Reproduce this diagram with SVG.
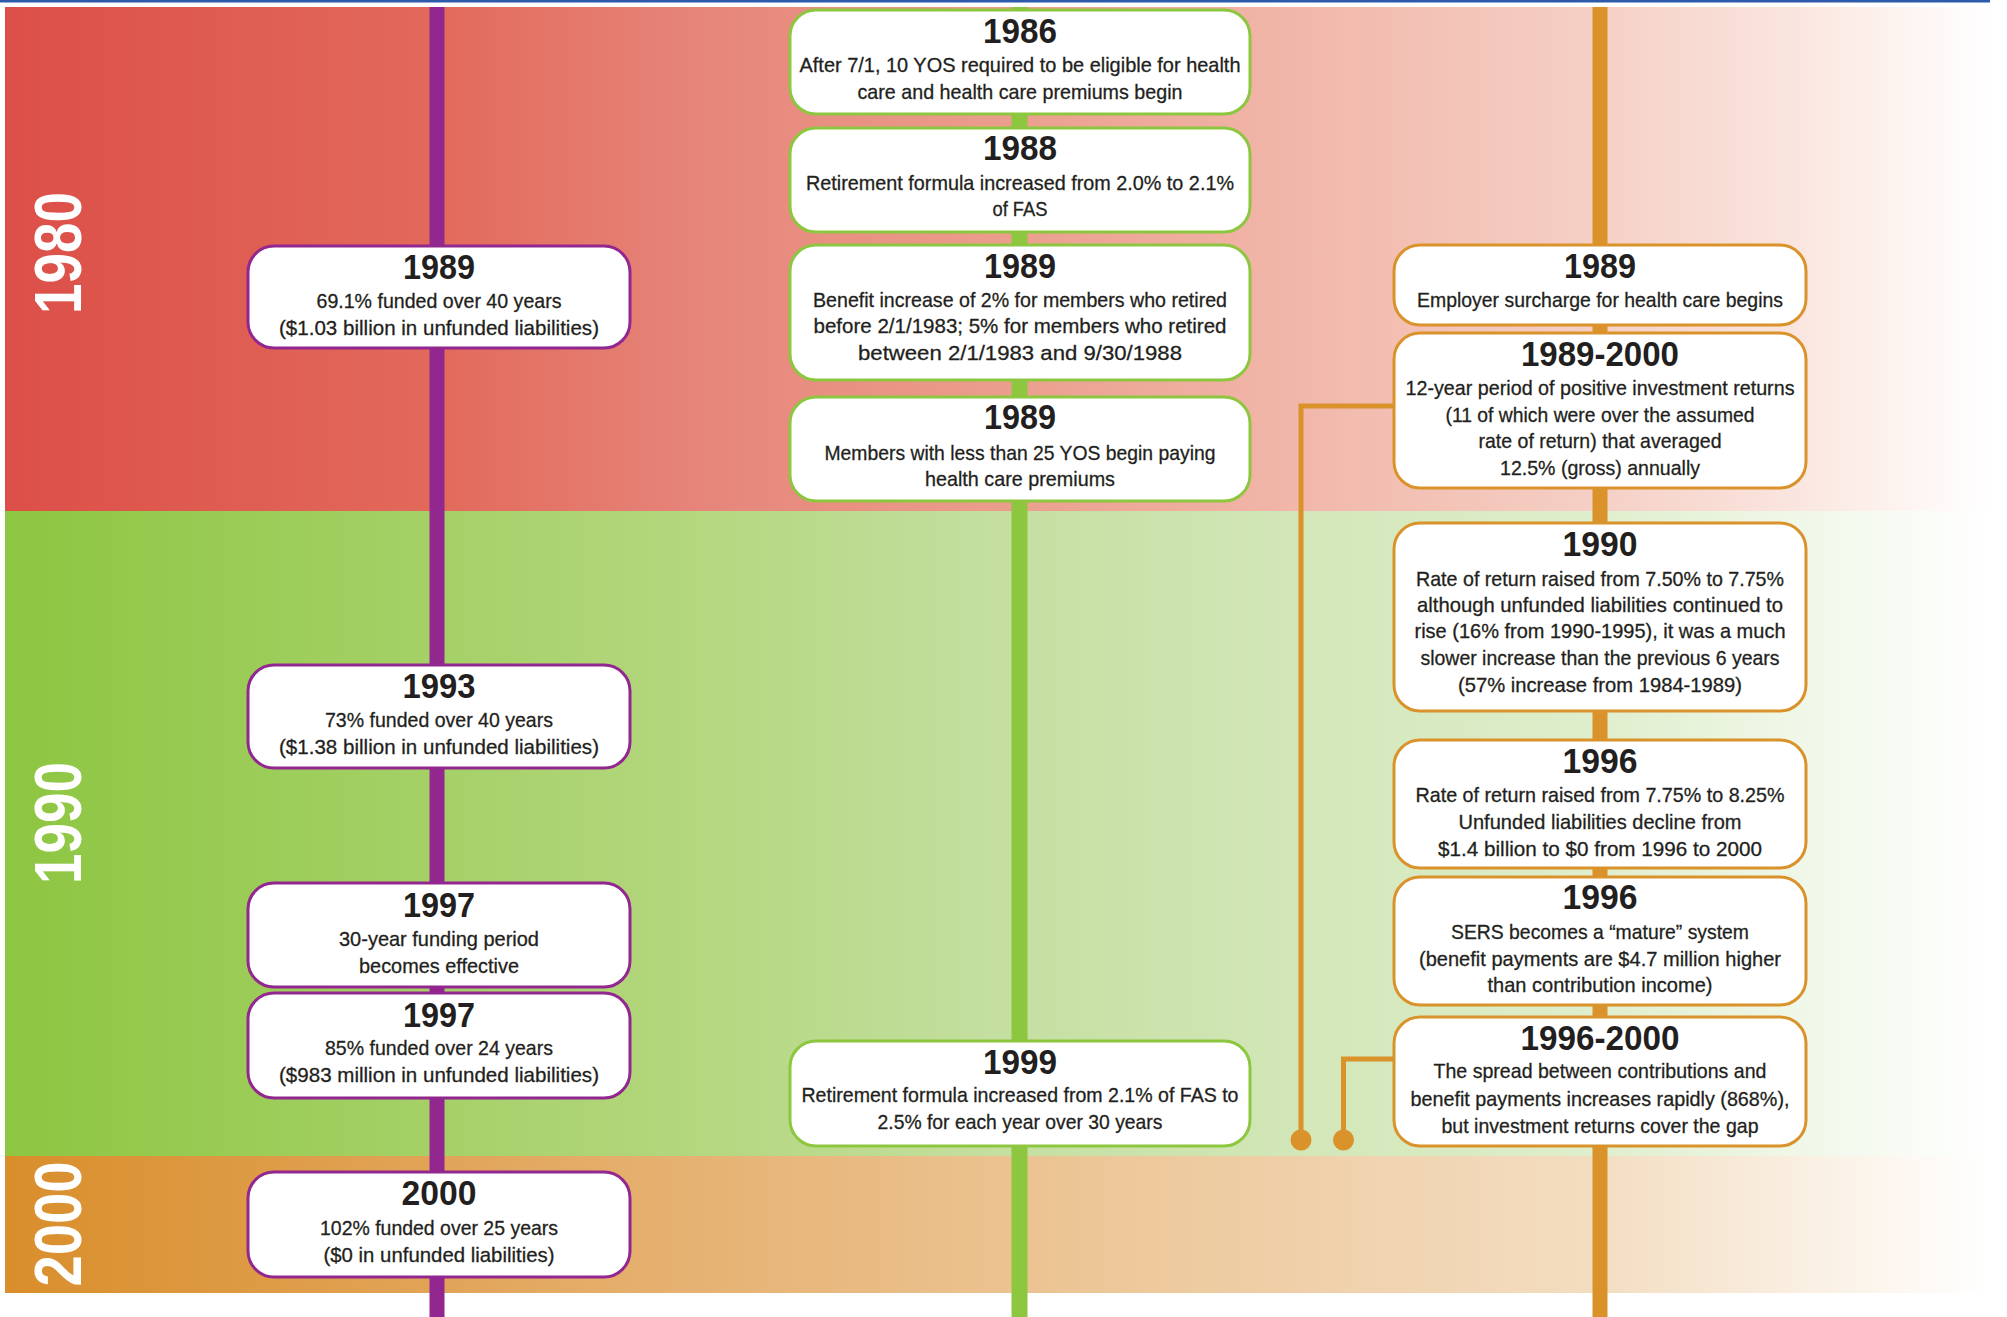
<svg xmlns="http://www.w3.org/2000/svg" width="2007" height="1317" viewBox="0 0 2007 1317">
<defs>
<linearGradient id="gRed" x1="0" y1="0" x2="1" y2="0">
<stop offset="0" stop-color="#DC4F48"/>
<stop offset="0.22" stop-color="#E26A5B"/>
<stop offset="0.35" stop-color="#E6857A"/>
<stop offset="0.5" stop-color="#EB9D8C"/>
<stop offset="0.68" stop-color="#F2BCAF"/>
<stop offset="0.8" stop-color="#F5CFC5"/>
<stop offset="0.9" stop-color="#FAE5DE"/>
<stop offset="1" stop-color="#FFFFFF"/>
</linearGradient>
<linearGradient id="gGreen" x1="0" y1="0" x2="1" y2="0">
<stop offset="0" stop-color="#8DC641"/>
<stop offset="0.35" stop-color="#B4D77F"/>
<stop offset="0.5" stop-color="#C4DFA0"/>
<stop offset="0.68" stop-color="#D5E8BC"/>
<stop offset="0.8" stop-color="#DFEECC"/>
<stop offset="0.9" stop-color="#EFF7E7"/>
<stop offset="1" stop-color="#FFFFFF"/>
</linearGradient>
<linearGradient id="gOrange" x1="0" y1="0" x2="1" y2="0">
<stop offset="0" stop-color="#D98E2B"/>
<stop offset="0.35" stop-color="#E6B273"/>
<stop offset="0.5" stop-color="#EBC28F"/>
<stop offset="0.68" stop-color="#F0D2AE"/>
<stop offset="0.8" stop-color="#F3DDC0"/>
<stop offset="0.9" stop-color="#F9EEE0"/>
<stop offset="1" stop-color="#FFFFFF"/>
</linearGradient>
</defs>
<style>
.t{font-family:"Liberation Sans Narrow","Liberation Sans",Arial,sans-serif;fill:#231F20;text-anchor:middle}
.h{font-size:35px;font-weight:bold}
.b{font-size:21px;stroke:#231F20;stroke-width:0.3}
.dec{font-family:"Liberation Sans",Arial,sans-serif;font-weight:bold;font-size:66px;fill:#FFFFFF;text-anchor:middle}
.pb{fill:#FFFFFF;stroke:#92278F;stroke-width:3}
.gb{fill:#FFFFFF;stroke:#8DC63F;stroke-width:3}
.ob{fill:#FFFFFF;stroke:#DA922B;stroke-width:3}
.link{fill:none;stroke:#DA922B;stroke-width:5}
.dot{fill:#DA922B}
</style>
<rect x="0" y="0" width="2007" height="1317" fill="#FFFFFF"/>
<g id="bands">
<rect x="0" y="0" width="1990" height="2.5" fill="#2E5AAC"/>
<rect x="5" y="7" width="1985" height="504" fill="url(#gRed)"/>
<rect x="5" y="511" width="1985" height="645" fill="url(#gGreen)"/>
<rect x="5" y="1156" width="1985" height="137" fill="url(#gOrange)"/>
</g>
<g id="connectors">
<rect x="429.5" y="7" width="15" height="1310" fill="#92278F"/>
<rect x="1011.5" y="7" width="16" height="1310" fill="#8DC63F"/>
<rect x="1592.5" y="7" width="15" height="1310" fill="#DA922B"/>
<path class="link" d="M1394 406 H1301 V1138"/>
<circle class="dot" cx="1301" cy="1140" r="10.5"/>
<path class="link" d="M1394 1059 H1343.5 V1138"/>
<circle class="dot" cx="1343.5" cy="1140" r="10.5"/>
</g>
<g id="p1989">
<rect class="pb" x="248" y="246" width="382" height="102" rx="26"/>
<text class="t h" x="439" y="279" textLength="72" lengthAdjust="spacingAndGlyphs">1989</text>
<text class="t b" x="439" y="308" textLength="245" lengthAdjust="spacingAndGlyphs">69.1% funded over 40 years</text>
<text class="t b" x="439" y="335" textLength="320" lengthAdjust="spacingAndGlyphs">($1.03 billion in unfunded liabilities)</text>
</g>
<g id="p1993">
<rect class="pb" x="248" y="665" width="382" height="103" rx="26"/>
<text class="t h" x="439" y="698" textLength="73" lengthAdjust="spacingAndGlyphs">1993</text>
<text class="t b" x="439" y="727" textLength="228" lengthAdjust="spacingAndGlyphs">73% funded over 40 years</text>
<text class="t b" x="439" y="754" textLength="320" lengthAdjust="spacingAndGlyphs">($1.38 billion in unfunded liabilities)</text>
</g>
<g id="p1997a">
<rect class="pb" x="248" y="883" width="382" height="104" rx="26"/>
<text class="t h" x="439" y="917" textLength="72" lengthAdjust="spacingAndGlyphs">1997</text>
<text class="t b" x="439" y="946" textLength="200" lengthAdjust="spacingAndGlyphs">30-year funding period</text>
<text class="t b" x="439" y="973" textLength="160" lengthAdjust="spacingAndGlyphs">becomes effective</text>
</g>
<g id="p1997b">
<rect class="pb" x="248" y="993" width="382" height="105" rx="26"/>
<text class="t h" x="439" y="1027" textLength="72" lengthAdjust="spacingAndGlyphs">1997</text>
<text class="t b" x="439" y="1055" textLength="228" lengthAdjust="spacingAndGlyphs">85% funded over 24 years</text>
<text class="t b" x="439" y="1082" textLength="320" lengthAdjust="spacingAndGlyphs">($983 million in unfunded liabilities)</text>
</g>
<g id="p2000">
<rect class="pb" x="248" y="1172" width="382" height="105" rx="26"/>
<text class="t h" x="439" y="1205" textLength="75" lengthAdjust="spacingAndGlyphs">2000</text>
<text class="t b" x="439" y="1235" textLength="238" lengthAdjust="spacingAndGlyphs">102% funded over 25 years</text>
<text class="t b" x="439" y="1262" textLength="231" lengthAdjust="spacingAndGlyphs">($0 in unfunded liabilities)</text>
</g>
<g id="g1986">
<rect class="gb" x="790" y="10" width="460" height="104" rx="26"/>
<text class="t h" x="1020" y="43" textLength="74" lengthAdjust="spacingAndGlyphs">1986</text>
<text class="t b" x="1020" y="72" textLength="441" lengthAdjust="spacingAndGlyphs">After 7/1, 10 YOS required to be eligible for health</text>
<text class="t b" x="1020" y="99" textLength="325" lengthAdjust="spacingAndGlyphs">care and health care premiums begin</text>
</g>
<g id="g1988">
<rect class="gb" x="790" y="128" width="460" height="104" rx="26"/>
<text class="t h" x="1020" y="160" textLength="74" lengthAdjust="spacingAndGlyphs">1988</text>
<text class="t b" x="1020" y="190" textLength="428" lengthAdjust="spacingAndGlyphs">Retirement formula increased from 2.0% to 2.1%</text>
<text class="t b" x="1020" y="216" textLength="55" lengthAdjust="spacingAndGlyphs">of FAS</text>
</g>
<g id="g1989a">
<rect class="gb" x="790" y="245" width="460" height="135" rx="26"/>
<text class="t h" x="1020" y="278" textLength="72" lengthAdjust="spacingAndGlyphs">1989</text>
<text class="t b" x="1020" y="307" textLength="414" lengthAdjust="spacingAndGlyphs">Benefit increase of 2% for members who retired</text>
<text class="t b" x="1020" y="333" textLength="413" lengthAdjust="spacingAndGlyphs">before 2/1/1983; 5% for members who retired</text>
<text class="t b" x="1020" y="360" textLength="324" lengthAdjust="spacingAndGlyphs">between 2/1/1983 and 9/30/1988</text>
</g>
<g id="g1989b">
<rect class="gb" x="790" y="397" width="460" height="104" rx="26"/>
<text class="t h" x="1020" y="429" textLength="72" lengthAdjust="spacingAndGlyphs">1989</text>
<text class="t b" x="1020" y="460" textLength="391" lengthAdjust="spacingAndGlyphs">Members with less than 25 YOS begin paying</text>
<text class="t b" x="1020" y="486" textLength="190" lengthAdjust="spacingAndGlyphs">health care premiums</text>
</g>
<g id="g1999">
<rect class="gb" x="790" y="1041" width="460" height="105" rx="26"/>
<text class="t h" x="1020" y="1074" textLength="74" lengthAdjust="spacingAndGlyphs">1999</text>
<text class="t b" x="1020" y="1102" textLength="437" lengthAdjust="spacingAndGlyphs">Retirement formula increased from 2.1% of FAS to</text>
<text class="t b" x="1020" y="1129" textLength="285" lengthAdjust="spacingAndGlyphs">2.5% for each year over 30 years</text>
</g>
<g id="o1989">
<rect class="ob" x="1394" y="245" width="412" height="80" rx="26"/>
<text class="t h" x="1600" y="278" textLength="72" lengthAdjust="spacingAndGlyphs">1989</text>
<text class="t b" x="1600" y="307" textLength="366" lengthAdjust="spacingAndGlyphs">Employer surcharge for health care begins</text>
</g>
<g id="o1989_2000">
<rect class="ob" x="1394" y="333" width="412" height="155" rx="26"/>
<text class="t h" x="1600" y="366" textLength="158" lengthAdjust="spacingAndGlyphs">1989-2000</text>
<text class="t b" x="1600" y="395" textLength="389" lengthAdjust="spacingAndGlyphs">12-year period of positive investment returns</text>
<text class="t b" x="1600" y="422" textLength="309" lengthAdjust="spacingAndGlyphs">(11 of which were over the assumed</text>
<text class="t b" x="1600" y="448" textLength="243" lengthAdjust="spacingAndGlyphs">rate of return) that averaged</text>
<text class="t b" x="1600" y="475" textLength="200" lengthAdjust="spacingAndGlyphs">12.5% (gross) annually</text>
</g>
<g id="o1990">
<rect class="ob" x="1394" y="523" width="412" height="188" rx="26"/>
<text class="t h" x="1600" y="556" textLength="75" lengthAdjust="spacingAndGlyphs">1990</text>
<text class="t b" x="1600" y="586" textLength="368" lengthAdjust="spacingAndGlyphs">Rate of return raised from 7.50% to 7.75%</text>
<text class="t b" x="1600" y="612" textLength="366" lengthAdjust="spacingAndGlyphs">although unfunded liabilities continued to</text>
<text class="t b" x="1600" y="638" textLength="371" lengthAdjust="spacingAndGlyphs">rise (16% from 1990-1995), it was a much</text>
<text class="t b" x="1600" y="665" textLength="359" lengthAdjust="spacingAndGlyphs">slower increase than the previous 6 years</text>
<text class="t b" x="1600" y="692" textLength="284" lengthAdjust="spacingAndGlyphs">(57% increase from 1984-1989)</text>
</g>
<g id="o1996a">
<rect class="ob" x="1394" y="740" width="412" height="128" rx="26"/>
<text class="t h" x="1600" y="773" textLength="75" lengthAdjust="spacingAndGlyphs">1996</text>
<text class="t b" x="1600" y="802" textLength="369" lengthAdjust="spacingAndGlyphs">Rate of return raised from 7.75% to 8.25%</text>
<text class="t b" x="1600" y="829" textLength="283" lengthAdjust="spacingAndGlyphs">Unfunded liabilities decline from</text>
<text class="t b" x="1600" y="856" textLength="324" lengthAdjust="spacingAndGlyphs">$1.4 billion to $0 from 1996 to 2000</text>
</g>
<g id="o1996b">
<rect class="ob" x="1394" y="877" width="412" height="128" rx="26"/>
<text class="t h" x="1600" y="909" textLength="75" lengthAdjust="spacingAndGlyphs">1996</text>
<text class="t b" x="1600" y="939" textLength="298" lengthAdjust="spacingAndGlyphs">SERS becomes a “mature” system</text>
<text class="t b" x="1600" y="966" textLength="362" lengthAdjust="spacingAndGlyphs">(benefit payments are $4.7 million higher</text>
<text class="t b" x="1600" y="992" textLength="225" lengthAdjust="spacingAndGlyphs">than contribution income)</text>
</g>
<g id="o1996_2000">
<rect class="ob" x="1394" y="1017" width="412" height="129" rx="26"/>
<text class="t h" x="1600" y="1050" textLength="159" lengthAdjust="spacingAndGlyphs">1996-2000</text>
<text class="t b" x="1600" y="1078" textLength="333" lengthAdjust="spacingAndGlyphs">The spread between contributions and</text>
<text class="t b" x="1600" y="1106" textLength="379" lengthAdjust="spacingAndGlyphs">benefit payments increases rapidly (868%),</text>
<text class="t b" x="1600" y="1133" textLength="317" lengthAdjust="spacingAndGlyphs">but investment returns cover the gap</text>
</g>
<g id="decades">
<text class="dec" transform="translate(81,253) rotate(-90)" x="0" y="0" textLength="122" lengthAdjust="spacingAndGlyphs">1980</text>
<text class="dec" transform="translate(81,823) rotate(-90)" x="0" y="0" textLength="122" lengthAdjust="spacingAndGlyphs">1990</text>
<text class="dec" transform="translate(81,1224) rotate(-90)" x="0" y="0" textLength="125" lengthAdjust="spacingAndGlyphs">2000</text>
</g>
</svg>
